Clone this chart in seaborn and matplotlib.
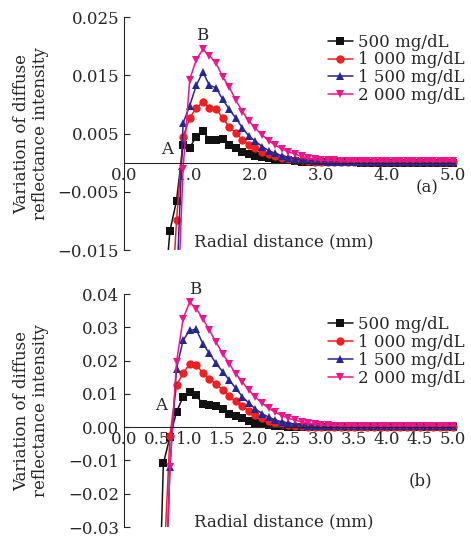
import numpy as np
import pandas as pd
import seaborn as sns
import matplotlib
matplotlib.use("Agg")
import matplotlib.pyplot as plt
from matplotlib.ticker import FuncFormatter

concs = ["500 mg/dL", "1 000 mg/dL", "1 500 mg/dL", "2 000 mg/dL"]
colors = ["#111111", "#f02020", "#262696", "#f0148c"]
markers = ["s", "o", "^", "v"]

# panel (a): radial distance 0.6 ... 5.0 mm
x_a = [0.6, 0.7, 0.8, 0.9, 1.0, 1.1, 1.2, 1.3, 1.4, 1.5, 1.6, 1.7, 1.8, 1.9, 2.0,
       2.1, 2.2, 2.3, 2.4, 2.5, 2.6, 2.7, 2.8, 2.9, 3.0, 3.1, 3.2, 3.3, 3.4, 3.5,
       3.6, 3.7, 3.8, 3.9, 4.0, 4.1, 4.2, 4.3, 4.4, 4.5, 4.6, 4.7, 4.8, 4.9, 5.0]
a_500 = [-0.025, -0.0117, -0.0065, 0.0031, 0.0026, 0.0045, 0.0054, 0.0040, 0.0039, 0.0041,
         0.0031, 0.0025, 0.0018, 0.0015, 0.0012, 0.0010, 0.0008, 0.0006, 0.0005, 0.0004,
         0.0003, 0.0002, 0.0002, 0.0001, 0.0001, 0.0001, 0.0001, 0.0001, 0.0001, 0.0001,
         0.0, 0.0, 0.0, 0.0, 0.0, 0.0, 0.0, 0.0, 0.0, 0.0, 0.0, 0.0, 0.0, 0.0, 0.0]
a_1000 = [-0.06, -0.030, -0.0099, 0.0045, 0.0077, 0.0094, 0.0104, 0.0094, 0.0093, 0.0077,
          0.0062, 0.0051, 0.0040, 0.0031, 0.0025, 0.0019, 0.0015, 0.0011, 0.0008, 0.0006,
          0.0005, 0.0004, 0.0003, 0.0002, 0.0002, 0.0001, 0.0001, 0.0001, 0.0001, 0.0001,
          0.0001, 0.0001, 0.0001, 0.0001, 0.0001, 0.0001, 0.0001, 0.0001, 0.0001, 0.0001,
          0.0001, 0.0001, 0.0001, 0.0001, 0.0001]
a_1500 = [-0.08, -0.06, -0.022, 0.0068, 0.0098, 0.0133, 0.0156, 0.0133, 0.0129, 0.0109,
          0.0092, 0.0077, 0.0060, 0.0046, 0.0037, 0.0028, 0.0021, 0.0016, 0.0012, 0.0009,
          0.0007, 0.0005, 0.0004, 0.0003, 0.0003, 0.0002, 0.0002, 0.0002, 0.0002, 0.0002,
          0.0002, 0.0002, 0.0002, 0.0002, 0.0002, 0.0002, 0.0002, 0.0002, 0.0002, 0.0002,
          0.0002, 0.0002, 0.0002, 0.0002, 0.0002]
a_2000 = [-0.09, -0.07, -0.03, -0.001, 0.0143, 0.0177, 0.0195, 0.0184, 0.0171, 0.0148,
          0.0130, 0.0108, 0.0088, 0.0072, 0.0059, 0.0048, 0.0038, 0.0030, 0.0024, 0.0019,
          0.0015, 0.0011, 0.0008, 0.0006, 0.0005, 0.0004, 0.0004, 0.0003, 0.0003, 0.0003,
          0.0003, 0.0003, 0.0003, 0.0003, 0.0003, 0.0003, 0.0003, 0.0003, 0.0003, 0.0003,
          0.0003, 0.0003, 0.0003, 0.0003, 0.0003]

# panel (b): radial distance 0.5 ... 5.0 mm
x_b = [0.5] + x_a
b_500 = [-0.08, -0.0109, -0.003, 0.0046, 0.0091, 0.0106, 0.0096, 0.0069, 0.0066, 0.0064,
         0.0056, 0.0041, 0.0034, 0.0027, 0.0019, 0.0014, 0.0009, 0.0006, 0.0004, 0.0003,
         0.0002, 0.0001, 0.0001, 0.0, 0.0, 0.0, 0.0, 0.0, 0.0, 0.0,
         0.0, 0.0, 0.0, 0.0, 0.0, 0.0, 0.0, 0.0, 0.0, 0.0, 0.0, 0.0, 0.0, 0.0, 0.0, 0.0]
b_1000 = [-0.09, -0.045, -0.0025, 0.0126, 0.0163, 0.0189, 0.0187, 0.0163, 0.0146, 0.0129,
          0.0113, 0.0093, 0.0078, 0.0064, 0.0050, 0.0038, 0.0028, 0.0020, 0.0014, 0.0010,
          0.0007, 0.0005, 0.0003, 0.0002, 0.0002, 0.0001, 0.0001, 0.0001, 0.0001, 0.0001,
          0.0001, 0.0001, 0.0001, 0.0001, 0.0001, 0.0001, 0.0001, 0.0001, 0.0001, 0.0001,
          0.0001, 0.0001, 0.0001, 0.0001, 0.0001, 0.0001]
b_1500 = [-0.12, -0.07, -0.0119, 0.0176, 0.0261, 0.0291, 0.0294, 0.0251, 0.0222, 0.0192,
          0.0167, 0.0142, 0.0117, 0.0092, 0.0072, 0.0055, 0.0041, 0.0030, 0.0022, 0.0016,
          0.0012, 0.0009, 0.0007, 0.0005, 0.0004, 0.0003, 0.0003, 0.0003, 0.0003, 0.0003,
          0.0003, 0.0003, 0.0003, 0.0003, 0.0003, 0.0003, 0.0003, 0.0003, 0.0003, 0.0003,
          0.0003, 0.0003, 0.0003, 0.0003, 0.0003, 0.0003]
b_2000 = [-0.12, -0.07, -0.012, 0.0196, 0.0326, 0.0376, 0.0356, 0.0326, 0.0291, 0.0256,
          0.0221, 0.0191, 0.0161, 0.0136, 0.0111, 0.0090, 0.0072, 0.0057, 0.0045, 0.0035,
          0.0027, 0.0021, 0.0016, 0.0012, 0.0009, 0.0007, 0.0006, 0.0005, 0.0004, 0.0004,
          0.0004, 0.0004, 0.0004, 0.0004, 0.0004, 0.0004, 0.0004, 0.0004, 0.0004, 0.0004,
          0.0004, 0.0004, 0.0004, 0.0004, 0.0004, 0.0004]


def long_df(x, series):
    frames = []
    for name, vals in zip(concs, series):
        frames.append(pd.DataFrame({"r": x, "v": vals, "conc": name}))
    return pd.concat(frames, ignore_index=True)


def fmt(spec):
    # real minus sign like the figure
    return FuncFormatter(lambda v, pos: (spec % v).replace("-", "\u2212"))


df_a = long_df(x_a, [a_500, a_1000, a_1500, a_2000])
df_b = long_df(x_b, [b_500, b_1000, b_1500, b_2000])

sns.set_style("ticks")
plt.rcParams["font.family"] = ["DejaVu Serif"]
plt.rcParams["font.size"] = 12

fig = plt.figure(figsize=(4.71, 5.38), dpi=100)
ax1 = fig.add_axes([0.263, 0.535, 0.707, 0.433])
ax2 = fig.add_axes([0.263, 0.0204, 0.707, 0.433])


def draw(ax, df, yticks, ylim, xticks, xfmt, yfmt, legend_top, tag, tagpos, xlab_y, A, B):
    sns.lineplot(data=df, x="r", y="v", hue="conc", style="conc", hue_order=concs,
                 style_order=concs, palette=colors, markers=markers, dashes=False,
                 markersize=6, linewidth=1.1, markeredgewidth=0, ax=ax, legend=True)
    leg = ax.get_legend()
    handles = leg.legend_handles
    labels = [t.get_text() for t in leg.get_texts()]
    leg.remove()
    ax.legend(handles, labels, loc="upper right", bbox_to_anchor=(1.0, legend_top),
              bbox_transform=fig.transFigure, frameon=False, fontsize=12,
              handlelength=1.5, handletextpad=0.3, labelspacing=0.05, borderaxespad=0)

    ax.set_xlim(0, 5.06)
    ax.set_ylim(*ylim)
    ax.spines["top"].set_visible(False)
    ax.spines["right"].set_visible(False)
    ax.spines["bottom"].set_position(("data", 0))
    ax.spines["bottom"].set_bounds(0, 5.0)
    ax.set_xticks(xticks)
    ax.set_yticks(yticks)
    ax.xaxis.set_major_formatter(fmt(xfmt))
    ax.yaxis.set_major_formatter(fmt(yfmt))
    ax.tick_params(axis="x", length=0, pad=3, labelsize=12)
    ax.tick_params(axis="y", direction="in", length=4, labelsize=12)
    ax.set_xlabel("")
    ax.set_ylabel("Variation of diffuse\nreflectance intensity", fontsize=12, linespacing=1.1)
    ax.yaxis.set_label_coords(-0.225, 0.5)

    ax.text(0.48, xlab_y, "Radial distance (mm)", transform=ax.transAxes,
            ha="center", va="center", fontsize=12)
    ax.text(tagpos[0], tagpos[1], tag, transform=ax.transAxes,
            ha="center", va="center", fontsize=12)
    ax.text(A[0], A[1], "A", ha="center", va="center", fontsize=12)
    ax.text(B[0], B[1], "B", ha="center", va="center", fontsize=12, clip_on=False)


draw(ax1, df_a, [-0.015, -0.005, 0.005, 0.015, 0.025], (-0.015, 0.025),
     [0, 1, 2, 3, 4, 5], "%.1f", "%.3f", 0.95, "(a)", (0.91, 0.266), 0.034,
     (0.65, 0.0022), (1.19, 0.0218))
draw(ax2, df_b, [-0.03, -0.02, -0.01, 0.0, 0.01, 0.02, 0.03, 0.04], (-0.03, 0.04),
     [0, 0.5, 1, 1.5, 2, 2.5, 3, 3.5, 4, 4.5, 5], "%.1f", "%.2f", 0.425, "(b)",
     (0.892, 0.20), 0.021, (0.57, 0.0066), (1.09, 0.0413))

fig.savefig("out.png", dpi=100)
